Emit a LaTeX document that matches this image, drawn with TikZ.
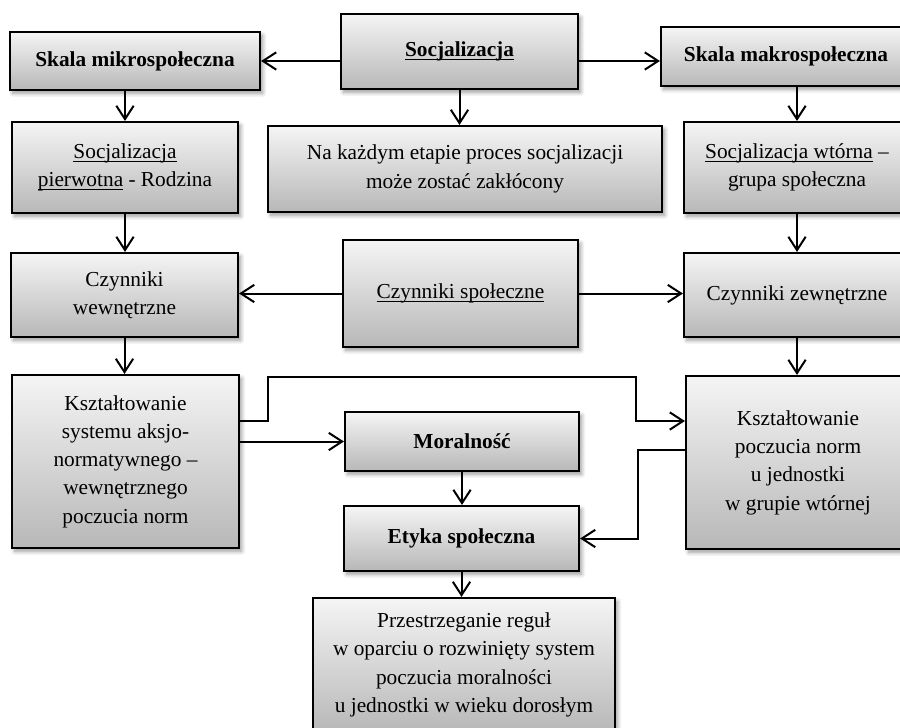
\documentclass[tikz,border=0pt]{standalone}
\usepackage{fontspec}
\setmainfont{Liberation Serif}
\usetikzlibrary{arrows.meta,shadows.blur}

\definecolor{boxtop}{gray}{0.96}
\definecolor{boxbot}{gray}{0.72}

% underline drawn just below the baseline
\newcommand\undr[1]{{\setbox0\hbox{#1}\rlap{\rule[-2.4pt]{\wd0}{0.7pt}}\box0}}

\tikzset{
  box/.style={draw=black, line width=1.6pt, top color=boxtop, bottom color=boxbot,
    align=center, inner sep=0pt, font=\fontsize{16}{21.2}\selectfont,
    blur shadow={shadow xshift=2pt, shadow yshift=-2.5pt, shadow blur steps=8, shadow blur radius=3pt, shadow opacity=40}},
  sz/.style n args={2}{minimum width=#1pt, minimum height=#2pt},
  arr/.style={line width=1.5pt, -{Straight Barb[length=10pt,width=13pt,line width=1.5pt]}},
}

\begin{document}
\begin{tikzpicture}[x=0.75pt, y=-0.75pt]
\useasboundingbox (0,0) rectangle (900,728);
\clip (0,0) rectangle (900,728);

% top row
\node[box, sz={187.5}{43.5}] (mikro) at (135,61) {\textbf{Skala mikrospołeczna}};
\node[box, sz={177.75}{56.25}] (soc) at (459.5,51.5) {\textbf{\undr{Socjalizacja}}};
\node[box, sz={187.5}{44.25}] (makro) at (786,56.5) {\textbf{Skala makrospołeczna}};

% second row
\node[box, sz={169.5}{68.25}] (pierw) at (125,167.5) {\undr{Socjalizacja}\\\undr{pierwotna} - Rodzina};
\node[box, sz={295.5}{64.5}] (etap) at (465,169) {Na każdym etapie proces socjalizacji\\może zostać zakłócony};
\node[box, sz={169.5}{68.25}] (wtor) at (797,167.5) {\undr{Socjalizacja wtórna} –\\grupa społeczna};

% third row
\node[box, sz={170.25}{63}] (wewn) at (124.5,295) {Czynniki\\wewnętrzne};
\node[box, sz={176.25}{80.25}] (spol) at (460.5,293.5) {\undr{Czynniki społeczne}};
\node[box, sz={169.5}{63}] (zewn) at (797,295) {Czynniki zewnętrzne};

% lower part
\node[box, sz={170.25}{129.75}] (ksys) at (125.5,461.5) {Kształtowanie\\systemu aksjo-\\normatywnego –\\wewnętrznego\\poczucia norm};
\node[box, sz={168}{129.75}] (kpocz) at (798,462.5) {Kształtowanie\\poczucia norm\\u jednostki\\w grupie wtórnej};
\node[box, sz={175.5}{44.25}] (moral) at (462,441.5) {\textbf{Moralność}};
\node[box, sz={176.25}{48.75}] (etyka) at (461.5,538.5) {\textbf{Etyka społeczna}};
\node[box, sz={226.5}{100.5}] (przes) at (464,665) {Przestrzeganie reguł\\w oparciu o rozwinięty system\\poczucia moralności\\u jednostki w wieku dorosłym};

% bend points of the elbow connectors
\coordinate (j1) at (268,377);
\coordinate (j2) at (636,421);
\coordinate (j3) at (638,450);

% connectors
\draw[arr] (soc.west |- mikro.east) -- (mikro.east);
\draw[arr] (soc.east |- mikro.east) -- (makro.west |- mikro.east);
\draw[arr] (soc.south) -- (soc.south |- etap.north);
\draw[arr] (pierw.north |- mikro.south) -- (pierw.north);
\draw[arr] (wtor.north |- makro.south) -- (wtor.north);
\draw[arr] (pierw.south) -- (pierw.south |- wewn.north);
\draw[arr] (wtor.south) -- (zewn.north);
\draw[arr] (spol.west) -- (wewn.east |- spol.west);
\draw[arr] (spol.east) -- (zewn.west |- spol.east);
\draw[arr] (wewn.south) -- (wewn.south |- ksys.north);
\draw[arr] (zewn.south) -- (zewn.south |- kpocz.north);
\draw[arr] (ksys.east |- moral.west) -- (moral.west);
\draw[arr] (ksys.east |- j2) -| (j1) -| (j2) -- (kpocz.west |- j2);
\draw[arr] (kpocz.west |- j3) -- (j3) |- (etyka.east);
\draw[arr] (moral.south) -- (moral.south |- etyka.north);
\draw[arr] (etyka.south) -- (etyka.south |- przes.north);
\end{tikzpicture}
\end{document}
